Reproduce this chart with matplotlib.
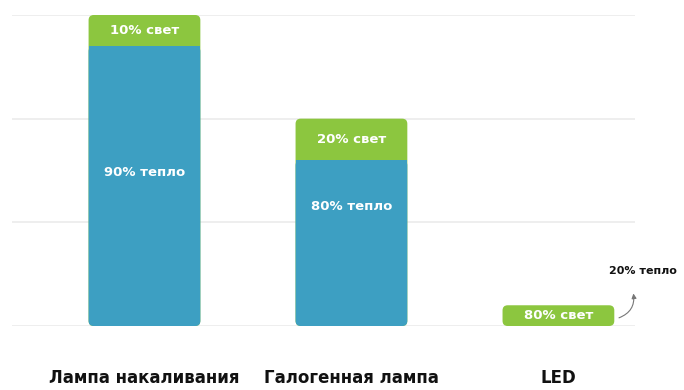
import matplotlib
matplotlib.use("Agg")
import matplotlib.pyplot as plt
from matplotlib.patches import FancyBboxPatch

plt.rcParams["font.family"] = ["DejaVu Sans"]

# energy use per lamp type (relative units) and its split into light / heat
lamps = ["Лампа накаливания", "Галогенная лампа", "LED"]
total = [3.0, 2.0, 0.25]
light_pct = [10, 20, 80]
heat_pct = [90, 80, 20]
light_labels = ["10% свет", "20% свет", "80% свет"]
heat_labels = ["90% тепло", "80% тепло", "20% тепло"]

BLUE = "#3d9fc2"
GREEN = "#8cc63f"
GRID = "#ebebeb"

fig = plt.figure(figsize=(6.84, 3.90), dpi=100)
ax = fig.add_axes([12 / 684, 64 / 390, 623 / 684, 311 / 390])
ax.set_xlim(-0.64, 2.37)
ax.set_ylim(0, 3.0)
ax.axis("off")

for y in (0, 1, 2, 3):
    ax.axhline(y, color=GRID, linewidth=1.2, zorder=0)

width = 0.54
px_ratio = (311 / 3.0) / (623 / 3.01)  # px per y-unit / px per x-unit


def rounded(x0, y0, w, h, color):
    box = FancyBboxPatch((x0, y0), w, h,
                         boxstyle="round,pad=0,rounding_size=0.025",
                         mutation_aspect=1 / px_ratio,
                         facecolor=color, edgecolor="none", zorder=2)
    ax.add_patch(box)


for i, name in enumerate(lamps):
    light = total[i] * light_pct[i] / 100
    heat = total[i] * heat_pct[i] / 100
    x0 = i - width / 2
    if i < 2:
        rounded(x0, 0, width, total[i], GREEN)
        rounded(x0, 0, width, heat, BLUE)
        ax.bar(i, heat - 0.05, width=width, bottom=0.05, color=BLUE, zorder=3)
        ax.text(i, heat + light / 2, light_labels[i], color="white",
                fontsize=9.5, fontweight="bold", ha="center", va="center", zorder=4)
        ty = heat * (0.55 if i == 0 else 0.72)
        ax.text(i, ty, heat_labels[i], color="white", fontsize=9.5,
                fontweight="bold", ha="center", va="center", zorder=4)
    else:
        rounded(x0, 0, width, light, GREEN)
        ax.text(i, light / 2, light_labels[i], color="white", fontsize=9.5,
                fontweight="bold", ha="center", va="center", zorder=4)
        ax.text(2.41, 0.53, heat_labels[i], fontsize=8, fontweight="bold",
                color="#111111", ha="center", va="center", clip_on=False)
        ax.annotate("", xy=(2.36, 0.34), xytext=(i + width / 2 + 0.01, light / 2 - 0.03),
                    arrowprops=dict(arrowstyle="-|>", color="#777777", lw=0.8,
                                    mutation_scale=7,
                                    connectionstyle="arc3,rad=0.45"),
                    annotation_clip=False)
    ax.text(i, -0.5, name, fontsize=12, fontweight="bold", ha="center",
            va="center", color="#111111", clip_on=False)

fig.savefig("out.png", dpi=100, facecolor="white")
